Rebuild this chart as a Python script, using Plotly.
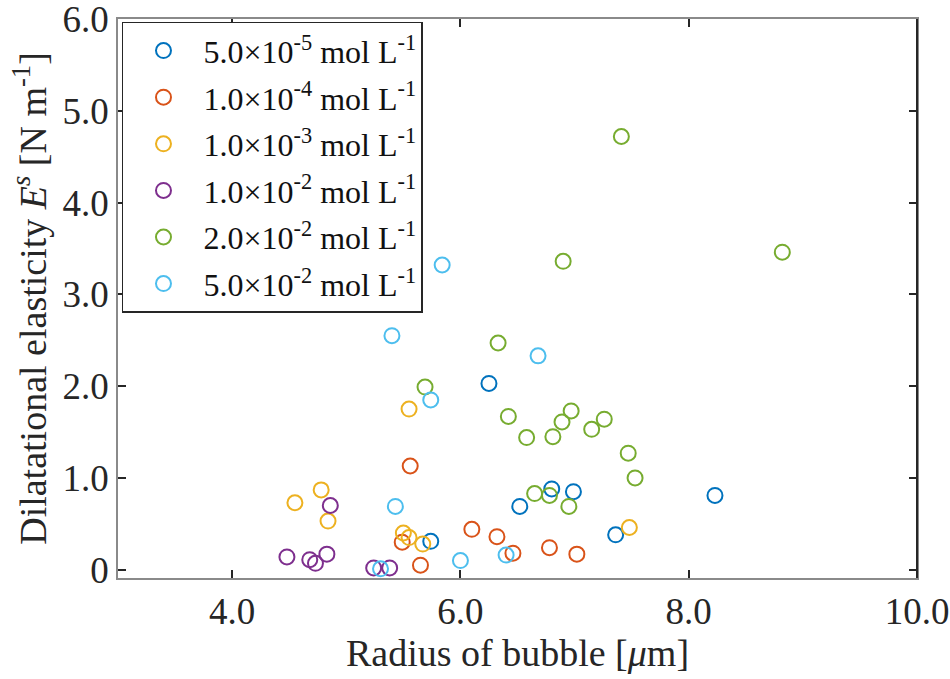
import plotly.graph_objects as go

# ---- data ----
labels = [
    "5.0×10<sup>-5</sup> mol L<sup>-1</sup>",
    "1.0×10<sup>-4</sup> mol L<sup>-1</sup>",
    "1.0×10<sup>-3</sup> mol L<sup>-1</sup>",
    "1.0×10<sup>-2</sup> mol L<sup>-1</sup>",
    "2.0×10<sup>-2</sup> mol L<sup>-1</sup>",
    "5.0×10<sup>-2</sup> mol L<sup>-1</sup>",
]

x_5e5 = [5.74, 6.52, 6.25, 6.80, 6.99, 7.36, 8.23]
y_5e5 = [0.31, 0.69, 2.03, 0.88, 0.85, 0.38, 0.81]

x_1e4 = [5.56, 5.49, 5.65, 6.10, 6.32, 6.46, 6.78, 7.02]
y_1e4 = [1.13, 0.30, 0.05, 0.44, 0.36, 0.18, 0.24, 0.17]

x_1e3 = [4.78, 4.55, 4.84, 5.50, 5.55, 5.67, 7.48, 5.55]
y_1e3 = [0.87, 0.73, 0.53, 0.40, 0.35, 0.28, 0.46, 1.75]

x_1e2 = [4.86, 4.48, 4.68, 4.73, 4.83, 5.24, 5.38]
y_1e2 = [0.70, 0.14, 0.11, 0.07, 0.17, 0.02, 0.02]

x_2e2 = [6.33, 6.42, 6.58, 6.81, 6.89, 6.97, 7.15, 7.26, 7.47, 7.53,
         6.65, 6.78, 6.95, 7.41, 8.82, 6.90, 5.69]
y_2e2 = [2.47, 1.67, 1.44, 1.45, 1.61, 1.73, 1.53, 1.64, 1.27, 1.00,
         0.83, 0.81, 0.69, 4.72, 3.46, 3.36, 1.99]

x_5e2 = [5.84, 5.40, 6.68, 5.74, 5.43, 5.30, 6.00, 6.40]
y_5e2 = [3.32, 2.55, 2.33, 1.85, 0.69, 0.01, 0.10, 0.16]

series_x = [x_5e5, x_1e4, x_1e3, x_1e2, x_2e2, x_5e2]
series_y = [y_5e5, y_1e4, y_1e3, y_1e2, y_2e2, y_5e2]
colors = ["#0072BD", "#D95319", "#EDB120", "#7E2F8E", "#77AC30", "#4DBEEE"]

x_ticks = [4, 6, 8, 10]
x_ticktext = ["4.0", "6.0", "8.0", "10.0"]
y_ticks = [0, 1, 2, 3, 4, 5, 6]
y_ticktext = ["0", "1.0", "2.0", "3.0", "4.0", "5.0", "6.0"]

FONT = "Liberation Serif, Times New Roman, serif"

fig = go.Figure()
for i, (xs, ys) in enumerate(zip(series_x, series_y)):
    fig.add_trace(go.Scatter(
        x=xs, y=ys, mode="markers", name=labels[i],
        legendgroup=f"g{i}",
        marker=dict(symbol="circle-open", size=15, color=colors[i],
                    line=dict(width=2, color=colors[i])),
    ))

axis_common = dict(
    showline=True, linecolor="#8a8a8a", linewidth=1.5, mirror="ticks",
    ticks="inside", ticklen=8, tickwidth=1.5, tickcolor="#262626",
    showgrid=False, zeroline=False, automargin=False,
    ticklabeloverflow="allow",
    tickfont=dict(family=FONT, size=37, color="#262626"),
)

fig.update_layout(
    width=950, height=679,
    margin=dict(l=118, r=33, t=19, b=101),
    paper_bgcolor="white", plot_bgcolor="white",
    font=dict(family=FONT, color="#262626"),
    xaxis=dict(range=[3, 10], tickvals=x_ticks, ticktext=x_ticktext,
               title=dict(text="Radius of bubble [<i>μ</i>m]",
                          font=dict(family=FONT, size=38, color="#262626"),
                          standoff=4),
               **axis_common),
    yaxis=dict(range=[-0.09, 6.0], tickvals=y_ticks, ticktext=y_ticktext,
               title=dict(text="Dilatational elasticity <i>E</i><sup><i>s</i></sup> [N m<sup>-1</sup>]",
                          font=dict(family=FONT, size=38, color="#262626"),
                          standoff=4),
               **axis_common),
    legend=dict(x=0.005, y=0.995, xanchor="left", yanchor="top",
                bgcolor="white", bordercolor="#262626", borderwidth=1.5,
                font=dict(family=FONT, size=32, color="#111111"),
                tracegroupgap=2, itemwidth=70, traceorder="grouped"),
    showlegend=True,
)

# darker right edge like the reference
fig.add_shape(type="line", xref="paper", yref="paper", x0=1, x1=1, y0=0, y1=1,
              line=dict(color="#262626", width=2))

fig.write_html("out.html")
